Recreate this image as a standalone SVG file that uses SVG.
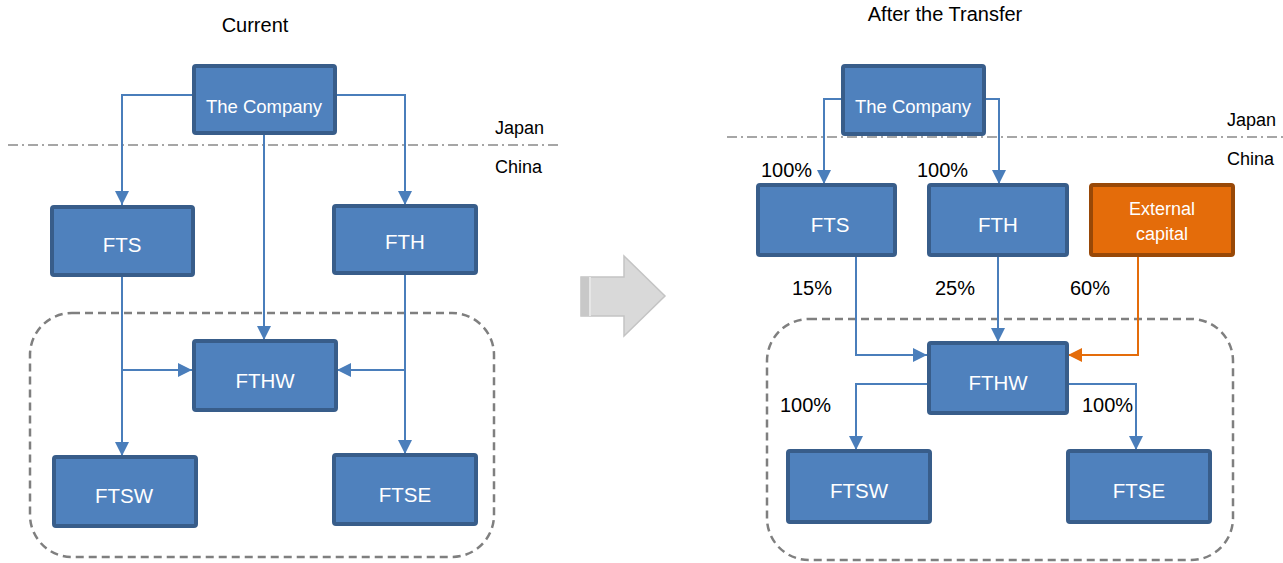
<svg xmlns="http://www.w3.org/2000/svg" width="1283" height="563" viewBox="0 0 1283 563">
<style>
.node rect{fill:#4F81BD;stroke:#385D8A;stroke-width:4}
.ext rect{fill:#E46C0A;stroke:#984807;stroke-width:4}
.nt{font-family:"Liberation Sans",Arial,sans-serif;font-size:20.5px;fill:#FFFFFF;text-anchor:middle}
.lbl{font-family:"Liberation Sans",Arial,sans-serif;font-size:20px;fill:#000000}
.reg{font-family:"Liberation Sans",Arial,sans-serif;font-size:18px;fill:#000000}
.title{font-family:"Liberation Sans",Arial,sans-serif;font-size:20px;fill:#000000;text-anchor:middle}
.c{fill:none;stroke:#4A7EBB;stroke-width:2}
.co{fill:none;stroke:#E46C0A;stroke-width:2}
.border{fill:none;stroke:#A6A6A6;stroke-width:2;stroke-dasharray:10 4 2 4}
.group{fill:none;stroke:#7F7F7F;stroke-width:2.5;stroke-dasharray:8 5}
</style>
<defs>
<marker id="abl" markerWidth="14" markerHeight="14" refX="14" refY="7" orient="auto" markerUnits="userSpaceOnUse" viewBox="0 0 14 14"><path d="M0,0 L14,7 L0,14 z" fill="#4A7EBB"/></marker>
<marker id="aol" markerWidth="14" markerHeight="14" refX="14" refY="7" orient="auto" markerUnits="userSpaceOnUse" viewBox="0 0 14 14"><path d="M0,0 L14,7 L0,14 z" fill="#E46C0A"/></marker>
</defs>
<rect width="1283" height="563" fill="#FFFFFF"/>

<!-- Titles -->
<text class="title" x="255" y="32">Current</text>
<text class="title" x="945" y="21">After the Transfer</text>

<!-- Borders -->
<line class="border" x1="8" y1="145" x2="562" y2="145"/>
<text class="reg" x="495" y="134">Japan</text>
<text class="reg" x="495" y="173">China</text>
<line class="border" x1="727" y1="137" x2="1283" y2="137"/>
<text class="reg" x="1227" y="126">Japan</text>
<text class="reg" x="1227" y="165">China</text>

<!-- Group boxes -->
<rect class="group" x="30" y="313" width="464" height="244" rx="42"/>
<rect class="group" x="767" y="319" width="466" height="241" rx="42"/>

<!-- Transition arrow -->
<g id="transition">
<path d="M581,277 L624,277 L624,256 L665,296 L624,336 L624,316 L581,316 Z" fill="#D9D9D9" stroke="#C4C4C4" stroke-width="1.5"/>
<rect x="581" y="277" width="8" height="39" fill="#C8C8C8"/>
<rect x="589" y="277" width="2" height="39" fill="#E6E6E6"/>
</g>

<!-- Connectors -->
<g id="connectors">
<path class="c" d="M193,95 H122 V205" marker-end="url(#abl)"/>
<path class="c" d="M336,95 H405 V205" marker-end="url(#abl)"/>
<path class="c" d="M264,127 V340" marker-end="url(#abl)"/>
<path class="c" d="M122,245 V456" marker-end="url(#abl)"/>
<path class="c" d="M122,370 H192" marker-end="url(#abl)"/>
<path class="c" d="M405,245 V454" marker-end="url(#abl)"/>
<path class="c" d="M405,370 H337" marker-end="url(#abl)"/>

<path class="c" d="M842,99 H824 V184" marker-end="url(#abl)"/>
<path class="c" d="M985,99 H999 V184" marker-end="url(#abl)"/>
<path class="c" d="M856,230 V355 H927" marker-end="url(#abl)"/>
<path class="c" d="M998,245 V342" marker-end="url(#abl)"/>
<path class="co" d="M1138,255 V355 H1068" marker-end="url(#aol)"/>
<path class="c" d="M928,384 H856 V450" marker-end="url(#abl)"/>
<path class="c" d="M1067,384 H1136 V450" marker-end="url(#abl)"/>
</g>

<!-- Left nodes -->
<g id="l-company" class="node"><rect x="194" y="66" width="141" height="67" rx="2"/><text class="nt" x="264" y="113" style="font-size:18.5px">The Company</text></g>
<g id="l-fts" class="node"><rect x="52" y="207" width="141" height="68" rx="2"/><text class="nt" x="122" y="252">FTS</text></g>
<g id="l-fth" class="node"><rect x="334" y="206" width="142" height="67" rx="2"/><text class="nt" x="405" y="249">FTH</text></g>
<g id="l-fthw" class="node"><rect x="194" y="341" width="142" height="69" rx="2"/><text class="nt" x="265" y="388">FTHW</text></g>
<g id="l-ftsw" class="node"><rect x="54" y="457" width="142" height="69" rx="2"/><text class="nt" x="124" y="503">FTSW</text></g>
<g id="l-ftse" class="node"><rect x="334" y="455" width="142" height="69" rx="2"/><text class="nt" x="405" y="502">FTSE</text></g>

<!-- Right nodes -->
<g id="r-company" class="node"><rect x="843" y="66" width="141" height="68" rx="2"/><text class="nt" x="913" y="113" style="font-size:18.5px">The Company</text></g>
<g id="r-fts" class="node"><rect x="758" y="185" width="137" height="70" rx="2"/><text class="nt" x="830" y="232">FTS</text></g>
<g id="r-fth" class="node"><rect x="929" y="185" width="138" height="70" rx="2"/><text class="nt" x="998" y="232">FTH</text></g>
<g id="r-ext" class="ext"><rect x="1091" y="185" width="142" height="70" rx="2"/><text class="nt" x="1162" y="215" style="font-size:18px">External</text><text class="nt" x="1162" y="240" style="font-size:18px">capital</text></g>
<g id="r-fthw" class="node"><rect x="929" y="343" width="138" height="70" rx="2"/><text class="nt" x="998" y="390">FTHW</text></g>
<g id="r-ftsw" class="node"><rect x="788" y="451" width="142" height="71" rx="2"/><text class="nt" x="859" y="498">FTSW</text></g>
<g id="r-ftse" class="node"><rect x="1068" y="451" width="142" height="71" rx="2"/><text class="nt" x="1139" y="498">FTSE</text></g>

<!-- Percent labels -->
<g id="labels">
<text class="lbl" x="761" y="177">100%</text>
<text class="lbl" x="917" y="177">100%</text>
<text class="lbl" x="792" y="295">15%</text>
<text class="lbl" x="935" y="295">25%</text>
<text class="lbl" x="1070" y="295">60%</text>
<text class="lbl" x="780" y="412">100%</text>
<text class="lbl" x="1082" y="412">100%</text>
</g>
</svg>
